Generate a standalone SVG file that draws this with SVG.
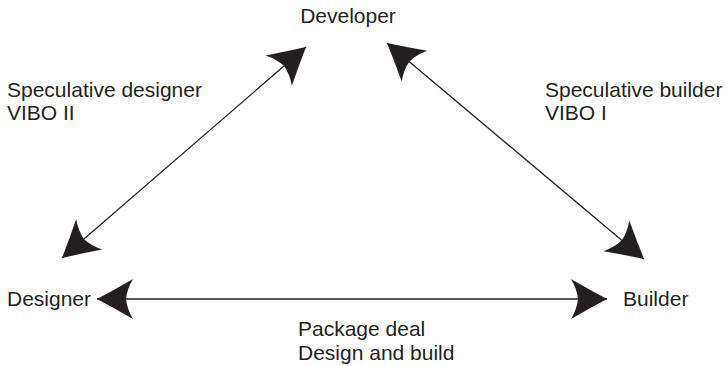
<svg xmlns="http://www.w3.org/2000/svg" width="727" height="366" viewBox="0 0 727 366">
<style>
.t{font-family:"Liberation Sans",Arial,sans-serif;font-size:21px;fill:#231f20}
.c{stroke:#231f20;stroke-width:1.3;fill:none}
</style>
<defs>
<marker id="ah" viewBox="-37 -21 38 42" markerWidth="38" markerHeight="42" refX="0" refY="0" markerUnits="userSpaceOnUse" orient="auto-start-reverse">
<path d="M0,0 Q-17,-9 -36,-20 Q-30,-10 -29,0 Q-30,10 -36,20 Q-17,9 0,0 Z" fill="#231f20"/>
</marker>
</defs>
<rect width="727" height="366" fill="#fff"/>
<g id="connectors">
<line class="c" x1="62" y1="258" x2="306" y2="47" marker-start="url(#ah)" marker-end="url(#ah)"/>
<line class="c" x1="387" y1="43" x2="644" y2="259" marker-start="url(#ah)" marker-end="url(#ah)"/>
<line class="c" x1="97" y1="299" x2="607" y2="299" marker-start="url(#ah)" marker-end="url(#ah)"/>
</g>
<g id="developer"><text class="t" x="348" y="23" text-anchor="middle">Developer</text></g>
<g id="designer"><text class="t" x="7" y="306">Designer</text></g>
<g id="builder"><text class="t" x="623" y="306">Builder</text></g>
<g id="label-designer"><text class="t" x="7" y="97">Speculative designer</text><text class="t" x="7" y="120">VIBO II</text></g>
<g id="label-builder"><text class="t" x="545" y="97">Speculative builder</text><text class="t" x="545" y="120">VIBO I</text></g>
<g id="label-package"><text class="t" x="298" y="336">Package deal</text><text class="t" x="298" y="360">Design and build</text></g>
</svg>
